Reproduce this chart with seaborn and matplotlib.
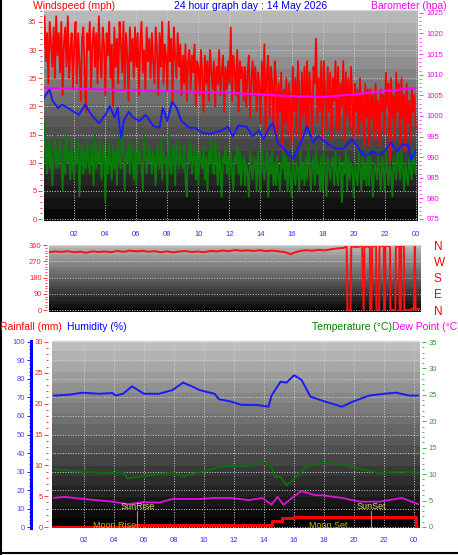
import numpy as np
import pandas as pd
import seaborn as sns
import matplotlib.pyplot as plt
from matplotlib.ticker import MultipleLocator

sns.set_style("white")
plt.rcParams['font.family'] = ['Liberation Sans', 'DejaVu Sans']

# ---- top panel: wind (mph) and barometer (hpa); gust / speed in 5 minute samples, one row per hour
gust = [30, 36, 28, 33, 24, 35, 31, 27, 34, 25, 36, 29,
        33, 26, 35, 22, 31, 34, 27, 36, 25, 30, 33, 23,
        31, 35, 24, 33, 28, 21, 32, 34, 26, 19, 33, 30,
        35, 23, 31, 34, 27, 33, 24, 36, 29, 25, 34, 31,
        22, 33, 29, 35, 25, 31, 20, 34, 27, 32, 24, 35,
        31, 26, 35, 23, 33, 29, 21, 34, 28, 32, 25, 34,
        27, 33, 22, 31, 35, 26, 30, 23, 34, 28, 32, 25,
        33, 28, 24, 34, 30, 22, 33, 27, 35, 24, 31, 29,
        23, 35, 28, 32, 21, 34, 29, 25, 33, 27, 31, 22,
        29, 24, 31, 21, 28, 30, 23, 29, 26, 31, 20, 28,
        27, 22, 30, 25, 19, 29, 24, 28, 21, 30, 26, 23,
        28, 20, 27, 24, 30, 22, 26, 29, 19, 27, 23, 28,
        24, 34, 21, 29, 26, 22, 30, 19, 28, 25, 27, 21,
        27, 20, 26, 29, 18, 25, 28, 22, 27, 19, 26, 24,
        17, 28, 22, 31, 15, 26, 29, 18, 27, 24, 16, 28,
        25, 14, 24, 19, 26, 12, 23, 17, 25, 15, 24, 20,
        13, 27, 19, 25, 15, 28, 22, 14, 26, 18, 27, 16,
        28, 16, 26, 21, 15, 27, 24, 32, 17, 25, 19, 28,
        14, 28, 22, 16, 27, 19, 26, 14, 25, 21, 28, 16,
        27, 15, 24, 20, 28, 14, 26, 18, 25, 16, 27, 21,
        14, 24, 19, 23, 15, 25, 17, 22, 13, 24, 18, 23,
        13, 23, 18, 22, 14, 24, 16, 21, 13, 23, 19, 22,
        15, 26, 20, 24, 10, 25, 18, 22, 14, 26, 19, 24,
        13, 25, 18, 22, 12, 24, 17, 21, 14, 23, 19, 22,
        16]
speed5 = [10, 17, 12, 8, 14, 9, 13, 6, 11, 15, 9, 12,
          9, 14, 11, 5, 13, 8, 15, 10, 12, 7, 14, 9,
          7, 12, 10, 14, 4, 11, 13, 8, 12, 9, 14, 10,
          8, 13, 11, 6, 15, 9, 12, 10, 14, 7, 11, 13,
          3, 11, 8, 14, 10, 7, 13, 9, 12, 6, 14, 10,
          9, 16, 11, 5, 12, 10, 14, 8, 13, 11, 7, 12,
          6, 14, 10, 12, 9, 5, 15, 11, 8, 13, 10, 12,
          8, 12, 10, 6, 13, 11, 9, 14, 7, 12, 10, 11,
          5, 15, 10, 8, 12, 13, 6, 14, 11, 9, 13, 10,
          9, 13, 7, 4, 12, 10, 14, 8, 11, 13, 7, 12,
          6, 12, 10, 9, 13, 7, 11, 5, 12, 10, 14, 9,
          8, 14, 10, 6, 12, 9, 4, 11, 10, 13, 8, 11,
          7, 12, 9, 5, 11, 10, 13, 8, 12, 6, 10, 11,
          6, 10, 8, 4, 12, 9, 7, 11, 10, 5, 12, 8,
          5, 13, 9, 7, 10, 12, 4, 11, 8, 12, 6, 10,
          6, 11, 8, 5, 10, 9, 12, 7, 11, 5, 10, 8,
          4, 11, 8, 6, 10, 9, 5, 12, 7, 10, 6, 11,
          7, 13, 9, 5, 10, 11, 6, 12, 8, 10, 5, 11,
          5, 12, 8, 4, 11, 9, 7, 10, 11, 6, 12, 8,
          6, 11, 9, 3, 10, 8, 12, 5, 11, 7, 10, 9,
          4, 10, 8, 6, 12, 9, 5, 11, 7, 10, 6, 12,
          6, 11, 8, 4, 10, 9, 7, 12, 8, 5, 11, 9,
          5, 12, 9, 6, 10, 8, 4, 11, 9, 7, 12, 10,
          7, 12, 9, 5, 10, 8, 6, 11, 9, 7, 12, 10,
          8]
avg_hours = [0.0, 0.4, 0.6, 0.95, 1.2, 1.6, 2.0, 2.3, 2.7, 3.1, 3.6, 4.0, 4.3, 4.6,
             4.8, 5.0, 5.2, 5.5, 5.8, 6.2, 6.6, 7.1, 7.5, 7.7, 8.0, 8.3, 8.6, 8.9,
             9.4, 9.8, 10.2, 10.7, 11.1, 11.5, 11.9, 12.2, 12.6, 13.1, 13.5, 13.9,
             14.2, 14.6, 14.8, 15.1, 15.6, 16.1, 16.6, 17.0, 17.4, 17.7, 18.4, 18.8,
             19.3, 19.9, 20.3, 20.7, 21.2, 21.6, 22.0, 22.4, 22.8, 23.1, 23.5, 23.7, 24.0]
avg_speed = [21.3, 23.0, 21.0, 19.7, 20.3, 19.7, 19.0, 18.5, 20.3, 18.5, 17.0, 18.5,
             20.0, 18.0, 19.7, 14.4, 17.5, 19.0, 18.0, 17.4, 18.5, 16.5, 16.2, 19.7,
             17.4, 20.8, 19.7, 17.4, 16.2, 16.2, 15.4, 15.1, 15.4, 15.7, 16.4, 14.7,
             16.6, 16.4, 14.7, 15.8, 14.2, 16.4, 17.0, 13.6, 12.2, 10.7, 13.6, 16.4,
             13.6, 14.7, 13.2, 12.6, 12.4, 14.2, 12.6, 11.1, 12.0, 11.4, 12.0, 13.6,
             12.0, 13.2, 13.2, 10.4, 12.2]
baro_hours = [0, 2, 4, 6, 8, 10, 12, 14, 16, 18, 20, 22, 24]
baro_hpa = [1006.8, 1006.6, 1006.4, 1006.2, 1006.0, 1005.8, 1005.6, 1005.2,
            1004.8, 1004.6, 1005.2, 1006.0, 1006.8]

# ---- middle panel: wind direction (degrees)
dir_hours = [0.4, 0.8, 1.2, 1.6, 2.0, 2.4, 2.8, 3.2, 3.6, 4.0, 4.4, 4.8, 5.2, 5.6,
             6.0, 6.4, 6.8, 7.2, 7.6, 8.0, 8.4, 8.8, 9.2, 9.6, 10.0, 10.4, 10.8,
             11.2, 11.6, 12.0, 12.4, 12.8, 13.2, 13.6, 14.0, 14.4, 14.8, 15.2, 15.6,
             16.0, 16.2, 16.6, 17.0, 17.4, 17.8, 18.2, 18.6, 19.0, 19.4, 19.6,
             19.65, 19.85, 19.9, 20.3, 20.6, 20.7, 20.75, 21.1, 21.12, 21.2, 21.25,
             21.5, 21.52, 21.7, 21.72, 22.0, 22.02, 22.08, 22.1, 22.4, 22.42, 22.75,
             22.78, 23.0, 23.02, 23.1, 23.12, 23.3, 23.32, 23.7, 23.85, 23.95, 24.0,
             24.05, 24.3]
dir_deg = [322, 325, 323, 327, 321, 324, 318, 326, 322, 325, 321, 328, 323, 330,
           326, 329, 324, 327, 321, 326, 320, 325, 328, 322, 325, 321, 328,
           326, 330, 327, 333, 329, 331, 328, 332, 327, 330, 326, 322,
           310, 318, 328, 332, 329, 334, 331, 337, 342, 345, 355,
           0, 0, 352, 350, 356, 2, 353, 350, 0, 0, 355,
           352, 3, 0, 356, 354, 0, 1, 357, 352, 2, 0,
           355, 351, 0, 0, 356, 354, 2, 0, 8, 5, 355,
           2, 8]

# ---- bottom panel: humidity (%), rainfall (mm), temperature / dew point (C)
hum_hours = [0, 1, 1.9, 3, 3.9, 4.1, 4.6, 5.2, 5.6, 6, 7, 7.9, 8.6, 9.2, 9.7, 10.7,
             11, 11.7, 12.5, 13.5, 14.3, 14.5, 15.1, 15.5, 16, 16.5, 17.1, 18.1,
             19.2, 19.9, 21, 22, 22.8, 23.7, 24.3]
humidity = [71, 71.5, 72.6, 72, 72.4, 71, 72, 76, 74, 72, 72, 74, 78, 76, 74, 72,
            69, 68, 66, 66, 65, 71, 78.5, 78, 82, 79.5, 70.4, 67.7,
            65, 67.7, 71, 72, 72.6, 71, 71]
temp_hours = [0, 1.1, 2, 3.9, 4.6, 4.9, 5.9, 7, 7.9, 8.6, 9.9, 11.1, 11.7, 13, 13.9,
              14.5, 14.7, 15.1, 15.5, 16.1, 16.8, 17.9, 19.2, 20.1, 21.7, 23.2, 24.3]
temperature = [11, 10.6, 10.4, 10.2, 10.4, 9.2, 9.6, 10, 10.3, 9.6, 10.5, 11.4, 11.5,
               11.5, 12.3, 11.4, 9.5, 9.5, 7.9, 9.3, 11.4, 12.2, 11.9, 11.2, 10.2,
               10.5, 10.2]
dew_hours = [0, 0.7, 2, 3.9, 4.9, 5.9, 7, 7.9, 9.7, 10.7, 11.7, 13, 13.9, 14.5, 14.9,
             15.3, 16.1, 16.5, 17.4, 17.9, 19.2, 20.4, 21.7, 23.2, 24.3]
dew_point = [5.5, 5.7, 5.3, 4.8, 4.3, 4.7, 4.6, 5.3, 5.3, 5.5, 5.5, 5.1, 5.5, 4.2,
             5.7, 4.2, 6.0, 6.8, 6.0, 6.0, 5.5, 4.8, 4.8, 5.5, 4.3]
rain_hours = [-0.1, 5.5, 14.5, 15.2, 16.0, 24.15, 24.3]
rain_mm = [0.0, 0.3, 1.0, 1.5, 1.7, 0.0, 0.0]

hour_ticks = list(range(2, 25, 2))
hour_labels = ["%02d" % (h % 24) for h in hour_ticks]

W, H = 458, 555


def px(v):
    # pixels -> points at 100 dpi
    return v * 0.72


def box(x0, y0, x1, y1):
    return [x0 / W, 1 - y1 / H, (x1 - x0) / W, (y1 - y0) / H]


def shade(ax, xlim, ylim, top, bottom=0.03, bands=18):
    levels = np.linspace(bottom, top, bands).reshape(-1, 1)
    ax.imshow(levels, extent=[xlim[0], xlim[1], ylim[0], ylim[1]], origin='lower',
              cmap='gray', vmin=0, vmax=1, aspect='auto', interpolation='nearest', zorder=0)
    ax.set_xlim(xlim)
    ax.set_ylim(ylim)


def frame(ax):
    for s in ax.spines.values():
        s.set_visible(False)
    ax.spines['top'].set_visible(True)
    ax.spines['top'].set_color('#d8d8d8')
    ax.spines['top'].set_linewidth(0.8)


def yticks(ax, side, major, minor, color, labelcolor, offset_px, pad=1):
    ax.yaxis.set_major_locator(MultipleLocator(major))
    ax.yaxis.set_minor_locator(MultipleLocator(minor))
    ax.spines[side].set_position(('outward', px(offset_px)))
    ax.tick_params(axis='y', which='major', colors=color, labelcolor=labelcolor,
                   length=px(4), width=px(1), pad=pad, labelsize=5.5, direction='out')
    ax.tick_params(axis='y', which='minor', colors=color, length=px(2), width=px(1),
                   direction='out')
    ax.set_ylabel('')


def xticks(ax, pad):
    ax.set_xticks(hour_ticks)
    ax.set_xticklabels(hour_labels)
    ax.xaxis.set_minor_locator(MultipleLocator(0.5))
    ax.spines['bottom'].set_position(('outward', px(2)))
    ax.tick_params(axis='x', which='both', colors='#a8a8a8', labelcolor='#3030ff',
                   length=px(2), width=px(1), pad=pad, labelsize=5.5)
    ax.set_xlabel('')


fig = plt.figure(figsize=(W / 100, H / 100), dpi=100)

# ---------------- top panel
ax1 = fig.add_axes(box(44, 10, 418, 221))
shade(ax1, (0.05, 24.15), (-0.35, 37.1), 0.72)
wind_df = pd.DataFrame({'hour': np.arange(len(gust)) / 12, 'gust': gust, 'speed': speed5})
sns.lineplot(data=wind_df, x='hour', y='gust', ax=ax1, color='#ff0000', lw=1.3)
sns.lineplot(data=wind_df, x='hour', y='speed', ax=ax1, color='#0a7a0a', lw=1.3)
sns.lineplot(x=avg_hours, y=avg_speed, ax=ax1, color='#1a1aff', lw=1.4)
frame(ax1)
ax1.grid(True, color='#d0d0d0', linestyle=':', linewidth=0.7)
ax1.set_ylim(-0.35, 37.1)
ax1.set_xlim(0.05, 24.15)
yticks(ax1, 'left', 5, 1, '#ff4040', '#ff2020', 2)
xticks(ax1, 4)

ax1r = ax1.twinx()
sns.lineplot(x=baro_hours, y=baro_hpa, ax=ax1r, color='#ff00ff', lw=1.5)
frame(ax1r)
ax1r.set_ylim(974.5, 1025.7)
yticks(ax1r, 'right', 5, 1, '#ff40ff', '#ff00ff', 1.5, pad=2)

# ---------------- middle panel
ax2 = fig.add_axes(box(49, 245, 421, 312))
shade(ax2, (0.39, 24.4), (-11, 361), 0.72)
sns.lineplot(x=dir_hours, y=dir_deg, ax=ax2, color='#ff1010', lw=1.4)
frame(ax2)
ax2.grid(True, axis='y', color='#d0d0d0', linestyle=':', linewidth=0.7)
ax2.set_xlim(0.39, 24.4)
ax2.set_ylim(-11, 361)
yticks(ax2, 'left', 90, 15, '#ff4040', '#ff2020', 2)
ax2.set_yticks([0, 90, 180, 270, 360])
ax2.set_xticks([])
ax2r = ax2.twinx()
ax2r.set_ylim(-11, 361)
ax2r.set_yticks([0, 90, 180, 270, 360])
ax2r.set_yticklabels(['N', 'E', 'S', 'W', 'N'])
ax2r.tick_params(axis='y', length=0, pad=px(13), labelsize=8.5, labelcolor='#ff0000')
for s in ax2r.spines.values():
    s.set_visible(False)

# ---------------- bottom panel
ax3 = fig.add_axes(box(52, 341, 419, 528))
xl = (-0.13, 24.33)
shade(ax3, xl, (-0.5, 100.5), 0.74, bottom=0.01)
sns.lineplot(x=hum_hours, y=humidity, ax=ax3, color='#1a1aff', lw=1.4)
frame(ax3)
ax3.grid(True, color='#d0d0d0', linestyle=':', linewidth=0.7)
ax3.set_xlim(xl)
ax3.set_ylim(-0.5, 100.5)
yticks(ax3, 'left', 10, 2, '#2020ff', '#4646ff', 21.5, pad=1)
ax3.spines['left'].set_visible(True)
ax3.spines['left'].set_color('#0000ff')
ax3.spines['left'].set_linewidth(px(3))
xticks(ax3, 3.5)

axr = ax3.twinx()
sns.lineplot(x=rain_hours, y=rain_mm, ax=axr, color='#ff0000', lw=2.2,
             drawstyle='steps-post')
frame(axr)
axr.yaxis.tick_left()
axr.set_ylim(-0.16, 30.16)
yticks(axr, 'left', 5, 1, '#ff4040', '#ff2020', 4)

axt = ax3.twinx()
sns.lineplot(x=temp_hours, y=temperature, ax=axt, color='#0a700a', lw=1.3)
sns.lineplot(x=dew_hours, y=dew_point, ax=axt, color='#e010e0', lw=1.3)
frame(axt)
axt.set_ylim(-0.19, 35.19)
yticks(axt, 'right', 5, 1, '#50b850', '#3c963c', 3, pad=2)

# sun / moon markers
sun_color, moon_color = '#d8d860', '#c8b400'
for hr, label in [(5.55, 'SunRise'), (21.1, 'SunSet')]:
    axt.plot([hr, hr], [-0.19, 3.0], color='#a8a800', lw=0.8)
    axt.text(hr + 0.05, 3.9, label, color=sun_color, fontsize=6.5, ha='center', va='center')
axt.text(4.07, 0.25, 'Moon Rise', color=moon_color, fontsize=6.5, ha='center', va='center')
axt.text(18.3, 0.25, 'Moon Set', color=moon_color, fontsize=6.5, ha='center', va='center')

# ---------------- captions
fig.text(33 / W, 1 - 6 / H, 'Windspeed (mph)', color='#ff0000', fontsize=7.5, va='center')
fig.text(251 / W, 1 - 6 / H, '24 hour graph day : 14 May 2026', color='#0000e0',
         fontsize=7.5, ha='center', va='center')
fig.text(447 / W, 1 - 6 / H, 'Barometer (hpa)', color='#ff00ff', fontsize=7.5,
         ha='right', va='center')
fig.text(0, 1 - 327 / H, 'Rainfall (mm)', color='#ff0000', fontsize=7.5, va='center')
fig.text(67 / W, 1 - 327 / H, 'Humidity (%)', color='#0000ff', fontsize=7.5, va='center')
fig.text(312 / W, 1 - 327 / H, 'Temperature (°C)', color='#008000', fontsize=7.5, va='center')
fig.text(392 / W, 1 - 327 / H, 'Dew Point (°C)', color='#ff00ff', fontsize=7.5, va='center')

# black frame on left / bottom edge
fig.add_artist(plt.Line2D([0.002, 0.002], [0, 1], transform=fig.transFigure, color='black', lw=1.5))
fig.add_artist(plt.Line2D([0, 1], [0.003, 0.003], transform=fig.transFigure, color='black', lw=1.5))

fig.savefig('out.png', dpi=100)
